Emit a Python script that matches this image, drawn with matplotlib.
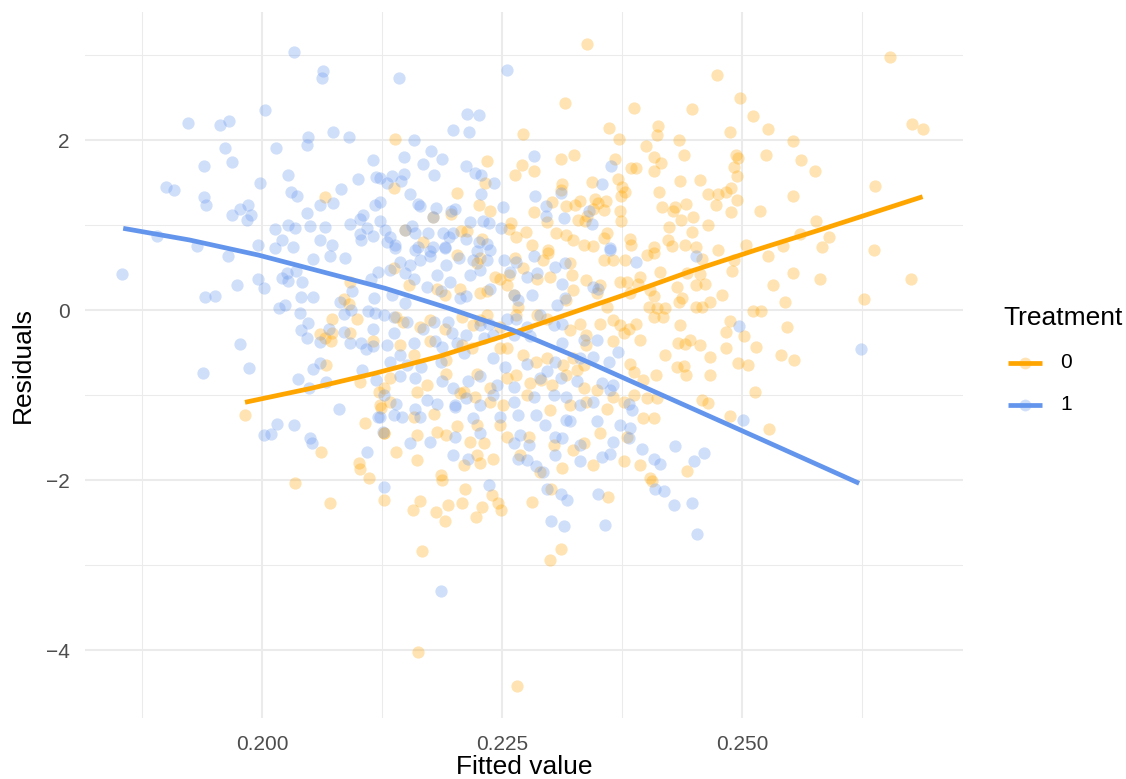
import matplotlib.pyplot as plt
from matplotlib.lines import Line2D
from matplotlib.ticker import MultipleLocator, StrMethodFormatter

plt.rcParams['font.family'] = ['Liberation Sans', 'DejaVu Sans']

# residuals vs fitted values, treatment 0
fitted_0 = [
    0.2066, 0.2092, 0.2085, 0.2091, 0.2099, 0.2073, 0.2060, 0.2066, 0.2073, 0.2072,
    0.2092, 0.2116, 0.2067, 0.2102, 0.2122, 0.2124, 0.2107, 0.2127, 0.1982, 0.2061,
    0.2101, 0.2102, 0.2111, 0.2034, 0.2071, 0.2127,
    0.2157, 0.2165, 0.2181, 0.2191, 0.2194, 0.2208, 0.2211, 0.2223, 0.2229, 0.2240,
    0.2246, 0.2249, 0.2167, 0.2162, 0.2266, 0.2281, 0.2301, 0.2311, 0.2300, 0.2360,
    0.2187, 0.2406,
    0.2527, 0.2458, 0.2492, 0.2443, 0.2456, 0.2490, 0.2553, 0.2581, 0.2676, 0.2432,
    0.2452, 0.2461, 0.2532, 0.2479, 0.2437, 0.2434, 0.2467, 0.2452, 0.2458, 0.2545,
    0.2627, 0.2511, 0.2520, 0.2435, 0.2488, 0.2483, 0.2502, 0.2547, 0.2433, 0.2441,
    0.2446, 0.2456, 0.2483, 0.2515, 0.2467, 0.2541, 0.2554, 0.2496, 0.2506, 0.2432,
    0.2440, 0.2442, 0.2467, 0.2514, 0.2458, 0.2465, 0.2487, 0.2528, 0.2443,
    0.2474, 0.2654, 0.2448, 0.2498, 0.2511, 0.2527, 0.2488, 0.2434, 0.2553, 0.2677,
    0.2689, 0.2440, 0.2494, 0.2496, 0.2525, 0.2561, 0.2576, 0.2492, 0.2495, 0.2435,
    0.2456, 0.2465, 0.2475, 0.2483, 0.2489, 0.2473, 0.2495, 0.2489, 0.2442, 0.2430,
    0.2436, 0.2449, 0.2465, 0.2448, 0.2553, 0.2519, 0.2639, 0.2577, 0.2560, 0.2591,
    0.2441, 0.2452, 0.2475, 0.2504, 0.2543, 0.2583, 0.2637,
    0.2339, 0.2316, 0.2387, 0.2272, 0.2361, 0.2372, 0.2413, 0.2411, 0.2139, 0.2311,
    0.2325, 0.2368, 0.2400, 0.2408, 0.2416, 0.2384, 0.2390, 0.2408, 0.2271, 0.2283,
    0.2264, 0.2234, 0.2232, 0.2137, 0.2203, 0.2313, 0.2311, 0.2344, 0.2371, 0.2375,
    0.2378, 0.2374, 0.2414, 0.2331, 0.2326, 0.2317, 0.2302, 0.2347, 0.2350, 0.2358,
    0.2356, 0.2345, 0.2339, 0.2373, 0.2374, 0.2417, 0.2428, 0.2424, 0.2226, 0.2238,
    0.2283, 0.2297, 0.2329, 0.2336, 0.2259, 0.2257, 0.2265, 0.2275, 0.2306, 0.2317,
    0.2324, 0.2335, 0.2345, 0.2359, 0.2356, 0.2383, 0.2384, 0.2408, 0.2423, 0.2427,
    0.2197, 0.2207, 0.2214, 0.2229, 0.2168, 0.2298, 0.2178, 0.2149,
    0.2137, 0.2203, 0.2224, 0.2227, 0.2243, 0.2257, 0.2264, 0.2272, 0.2281, 0.2293,
    0.2298, 0.2286, 0.2300, 0.2321, 0.2323, 0.2356, 0.2366, 0.2378, 0.2401, 0.2408,
    0.2415, 0.2394, 0.2392, 0.2380, 0.2153, 0.2182, 0.2191, 0.2206, 0.2227, 0.2234,
    0.2248, 0.2255, 0.2262, 0.2267, 0.2317, 0.2324, 0.2338, 0.2352, 0.2349, 0.2359,
    0.2373, 0.2383, 0.2404, 0.2408, 0.2403, 0.2411, 0.2140, 0.2147, 0.2165, 0.2175,
    0.2191, 0.2208, 0.2220, 0.2227, 0.2234, 0.2248, 0.2265, 0.2286, 0.2297, 0.2321,
    0.2331, 0.2338, 0.2352, 0.2366, 0.2373, 0.2382, 0.2390, 0.2394, 0.2408, 0.2418,
    0.2420, 0.2144, 0.2158, 0.2175, 0.2192, 0.2208, 0.2219, 0.2248, 0.2255, 0.2272,
    0.2285, 0.2297, 0.2314, 0.2324, 0.2335, 0.2338, 0.2366, 0.2377, 0.2383, 0.2387,
    0.2420, 0.2127, 0.2133, 0.2161, 0.2172, 0.2192, 0.2210, 0.2224, 0.2238, 0.2255,
    0.2265, 0.2279, 0.2291, 0.2302, 0.2317, 0.2328, 0.2335, 0.2349, 0.2366, 0.2387,
    0.2397, 0.2410, 0.2123, 0.2133, 0.2158, 0.2179, 0.2206, 0.2222, 0.2238, 0.2251,
    0.2276, 0.2300, 0.2321, 0.2338, 0.2359, 0.2377, 0.2401, 0.2411, 0.2127, 0.2140,
    0.2161, 0.2182, 0.2192, 0.2203, 0.2217, 0.2224, 0.2231, 0.2248, 0.2255, 0.2278,
    0.2304, 0.2324, 0.2335, 0.2352, 0.2380, 0.2397, 0.2408, 0.2161, 0.2186, 0.2210,
    0.2224, 0.2227, 0.2241, 0.2269, 0.2290, 0.2312, 0.2345, 0.2377, 0.2394, 0.2404,
]
resid_0 = [
    1.33, 0.33, 0.13, 0.07, -0.10, -0.11, -0.28, -0.33, -0.27, -0.37,
    -0.27, -0.36, -0.65, -0.85, -0.97, -1.15, -1.33, -1.45, -1.23, -1.67,
    -1.80, -1.87, -1.98, -2.04, -2.27, -2.24,
    -2.35, -2.25, -2.38, -2.48, -2.29, -2.27, -2.11, -2.44, -2.32, -2.18,
    -2.27, -2.35, -2.83, -4.02, -4.42, -2.26, -2.10, -2.81, -2.94, -2.20,
    -2.00, -2.01,
    0.64, 0.60, 0.59, 0.43, 0.42, 0.46, 0.43, 0.36, 0.37, 0.27,
    0.29, 0.31, 0.29, 0.18, 0.14, 0.09, 0.09, 0.03, 0.04, 0.09,
    0.13, -0.01, -0.01, -0.18, -0.13, -0.26, -0.31, -0.20, -0.39, -0.40,
    -0.35, -0.41, -0.45, -0.43, -0.55, -0.53, -0.59, -0.62, -0.65, -0.67,
    -0.66, -0.76, -0.76, -0.97, -1.06, -1.09, -1.25, -1.40, -1.89,
    2.76, 2.98, 2.36, 2.49, 2.28, 2.13, 2.09, 2.00, 1.99, 2.19,
    2.13, 1.82, 1.82, 1.79, 1.82, 1.77, 1.64, 1.68, 1.58, 1.52,
    1.53, 1.37, 1.36, 1.39, 1.44, 1.24, 1.29, 1.15, 1.25, 1.21,
    1.06, 1.09, 1.00, 0.92, 1.34, 1.17, 1.46, 1.05, 0.89, 0.86,
    0.76, 0.74, 0.71, 0.76, 0.75, 0.74, 0.71,
    3.13, 2.44, 2.38, 2.07, 2.14, 2.01, 2.16, 2.06, 2.01, 1.78,
    1.82, 1.78, 1.93, 1.80, 1.73, 1.67, 1.67, 1.63, 1.71, 1.63,
    1.59, 1.75, 1.49, 1.43, 1.38, 1.48, 1.41, 1.51, 1.54, 1.45,
    1.39, 1.34, 1.39, 1.28, 1.24, 1.22, 1.27, 1.31, 1.26, 1.28,
    1.18, 1.19, 1.11, 1.16, 1.05, 1.21, 1.16, 0.98, 1.23, 1.16,
    1.15, 1.03, 1.06, 1.05, 1.02, 0.95, 0.86, 0.92, 0.91, 0.88,
    0.82, 0.76, 0.75, 0.91, 0.85, 0.83, 0.76, 0.74, 0.82, 0.75,
    1.13, 0.93, 0.93, 0.83, 0.80, 0.71, 1.10, 0.94,
    0.49, 0.65, 0.55, 0.61, 0.39, 0.41, 0.61, 0.49, 0.76, 0.59,
    0.67, 0.37, 0.39, 0.55, 0.41, 0.59, 0.59, 0.59, 0.65, 0.67,
    0.45, 0.39, 0.31, 0.33, 0.29, 0.25, 0.18, 0.25, 0.20, 0.22,
    0.37, 0.29, 0.18, 0.04, 0.12, 0.24, 0.35, 0.29, 0.20, 0.04,
    0.33, 0.20, 0.24, 0.16, 0.04, 0.02, -0.08, -0.14, -0.20, -0.12,
    -0.22, -0.08, -0.18, -0.12, -0.06, -0.20, -0.06, -0.06, -0.10, -0.24,
    -0.16, -0.29, -0.16, -0.12, -0.18, -0.22, -0.16, -0.35, -0.08, -0.08,
    0.02, -0.41, -0.53, -0.37, -0.59, -0.41, -0.45, -0.45, -0.45, -0.53,
    -0.61, -0.57, -0.65, -0.57, -0.65, -0.41, -0.37, -0.27, -0.63, -0.73,
    -0.53, -0.92, -0.80, -0.96, -0.88, -0.75, -0.96, -0.75, -0.92, -0.80,
    -0.76, -0.86, -0.82, -0.88, -0.76, -0.71, -0.92, -0.94, -1.02, -1.00,
    -0.82, -0.76, -1.12, -1.08, -1.26, -1.22, -0.98, -1.02, -1.08, -1.12,
    -1.00, -1.18, -1.12, -1.08, -1.16, -1.08, -1.04, -1.04, -1.45, -1.67,
    -1.47, -1.43, -1.47, -1.37, -1.55, -1.35, -1.57, -1.35, -1.49, -1.49,
    -1.59, -1.65, -1.57, -1.45, -1.49, -1.27, -1.27, -1.76, -1.94, -1.82,
    -1.71, -1.80, -1.75, -1.71, -1.90, -1.86, -1.82, -1.78, -1.82, -1.98,
]

# residuals vs fitted values, treatment 1
fitted_1 = [
    0.2033, 0.2064, 0.2062, 0.2003, 0.1923, 0.1956, 0.1966, 0.2048, 0.2074, 0.2091,
    0.1961, 0.2015, 0.2047, 0.1940, 0.1969, 0.2116, 0.2027, 0.1998, 0.2100, 0.2119,
    0.1900, 0.1908, 0.2030, 0.2036, 0.2082, 0.1940, 0.1942, 0.1985, 0.1977, 0.1969,
    0.1989, 0.1984, 0.2060, 0.2074, 0.2047, 0.2118, 0.2123, 0.2013, 0.2027, 0.2034,
    0.2050, 0.2066, 0.2092, 0.2105, 0.2102, 0.2109, 0.2102, 0.2116, 0.2123, 0.2103,
    0.1891, 0.1932, 0.1996, 0.2021, 0.2060, 0.2073, 0.2013, 0.2032,
    0.1965, 0.1854, 0.1974, 0.1941, 0.1951, 0.1996, 0.2002, 0.2021, 0.2026, 0.2035,
    0.2027, 0.2042, 0.2053, 0.2071, 0.2086, 0.2018, 0.2024, 0.2040, 0.2041, 0.2053,
    0.2048, 0.2041, 0.2047, 0.2060, 0.2070, 0.2081, 0.2085, 0.2093, 0.2094, 0.2085,
    0.2092, 0.2103, 0.2108, 0.2116, 0.2110, 0.2118, 0.2116, 0.2117, 0.2121, 0.2114,
    0.1977, 0.1939, 0.1986, 0.2037, 0.2053, 0.2060, 0.2049, 0.2067, 0.2104, 0.2119,
    0.2080, 0.2121, 0.2016, 0.2033, 0.2002, 0.2009, 0.2050, 0.2052, 0.2109, 0.2126,
    0.2127,
    0.2236, 0.2186, 0.2297, 0.2311, 0.2318, 0.2301, 0.2315, 0.2350, 0.2357, 0.2409,
    0.2419, 0.2429, 0.2448, 0.2453,
    0.2452, 0.2497, 0.2624, 0.2501, 0.2430, 0.2450, 0.2460,
    0.2143, 0.2255, 0.2214, 0.2226, 0.2199, 0.2216, 0.2158, 0.2148, 0.2176, 0.2187,
    0.2168, 0.2179, 0.2213, 0.2222, 0.2228, 0.2242, 0.2135, 0.2148, 0.2145, 0.2123,
    0.2130, 0.2283, 0.2364, 0.2354, 0.2154, 0.2228, 0.2284, 0.2311, 0.2162, 0.2165,
    0.2181, 0.2201, 0.2197, 0.2251, 0.2296, 0.2341, 0.2128, 0.2156, 0.2159, 0.2173,
    0.2189, 0.2199, 0.2217, 0.2230, 0.2236, 0.2249, 0.2296, 0.2315, 0.2344, 0.2133,
    0.2130, 0.2139, 0.2162, 0.2178, 0.2191, 0.2195, 0.2212, 0.2226, 0.2234, 0.2363,
    0.2178, 0.2149,
    0.2139, 0.2159, 0.2175, 0.2191, 0.2224, 0.2238, 0.2363, 0.2144, 0.2154, 0.2165,
    0.2175, 0.2192, 0.2205, 0.2220, 0.2234, 0.2252, 0.2265, 0.2283, 0.2305, 0.2316,
    0.2390, 0.2133, 0.2149, 0.2158, 0.2182, 0.2196, 0.2217, 0.2227, 0.2258, 0.2276,
    0.2286, 0.2312, 0.2345, 0.2350, 0.2135, 0.2149, 0.2172, 0.2186, 0.2206, 0.2213,
    0.2238, 0.2262, 0.2281, 0.2267, 0.2307, 0.2316, 0.2127, 0.2137, 0.2151, 0.2168,
    0.2179, 0.2194, 0.2198, 0.2212, 0.2227, 0.2236, 0.2255, 0.2265, 0.2276, 0.2304,
    0.2312, 0.2290, 0.2137, 0.2130, 0.2144, 0.2158, 0.2180, 0.2187, 0.2203, 0.2231,
    0.2241, 0.2262, 0.2279, 0.2312, 0.2335, 0.2349, 0.2371, 0.2345, 0.2361, 0.2133,
    0.2151, 0.2166, 0.2186, 0.2210, 0.2241, 0.2253, 0.2276, 0.2297, 0.2305, 0.2331,
    0.2144, 0.2159, 0.2187, 0.2199, 0.2215, 0.2227, 0.2245, 0.2262, 0.2290, 0.2311,
    0.2328, 0.2354, 0.2366, 0.2127, 0.2140, 0.2159, 0.2172, 0.2182, 0.2201, 0.2213,
    0.2227, 0.2241, 0.2262, 0.2283, 0.2304, 0.2317, 0.2331, 0.2345, 0.2363, 0.2382,
    0.2385, 0.2123, 0.2137, 0.2146, 0.2165, 0.2201, 0.2220, 0.2248, 0.2267, 0.2285,
    0.2295, 0.2317, 0.2321, 0.2373, 0.2383, 0.2349, 0.2154, 0.2175, 0.2201, 0.2227,
    0.2262, 0.2269, 0.2278, 0.2305, 0.2312, 0.2331, 0.2366, 0.2382, 0.2396, 0.2199,
    0.2215, 0.2267, 0.2276, 0.2285, 0.2293, 0.2331, 0.2354, 0.2363, 0.2408, 0.2415,
    0.2305,
]
resid_1 = [
    3.04, 2.81, 2.73, 2.35, 2.20, 2.18, 2.22, 2.04, 2.09, 2.04,
    1.91, 1.91, 1.94, 1.70, 1.74, 1.77, 1.59, 1.49, 1.54, 1.56,
    1.45, 1.41, 1.39, 1.34, 1.42, 1.33, 1.23, 1.24, 1.19, 1.12,
    1.12, 1.06, 1.24, 1.26, 1.14, 1.23, 1.27, 0.95, 1.00, 0.96,
    0.99, 0.98, 1.01, 1.12, 1.07, 0.97, 0.90, 0.87, 1.05, 0.82,
    0.87, 0.75, 0.77, 0.82, 0.82, 0.76, 0.73, 0.74,
    0.64, 0.42, 0.30, 0.15, 0.17, 0.36, 0.26, 0.38, 0.43, 0.46,
    0.34, 0.33, 0.60, 0.64, 0.61, 0.02, 0.06, -0.03, 0.15, 0.15,
    -0.15, -0.24, -0.33, -0.38, -0.22, 0.09, -0.05, 0.00, 0.22, -0.26,
    -0.39, -0.39, -0.46, -0.42, -0.01, -0.04, -0.22, 0.14, 0.45, 0.37,
    -0.40, -0.74, -0.68, -0.81, -0.69, -0.62, -0.92, -0.85, -0.71, -0.82,
    -1.16, -1.26, -1.34, -1.35, -1.47, -1.46, -1.51, -1.57, -1.67, -1.43,
    -2.08,
    -2.06, -3.31, -2.11, -2.16, -2.24, -2.48, -2.54, -2.16, -2.53, -2.10,
    -2.13, -2.29, -2.27, -2.64,
    0.63, -0.19, -0.46, -1.29, -1.60, -1.78, -1.68,
    2.73, 2.82, 2.31, 2.30, 2.12, 2.10, 2.00, 1.80, 1.87, 1.78,
    1.72, 1.59, 1.70, 1.61, 1.59, 1.50, 1.58, 1.60, 1.52, 1.55,
    1.49, 1.81, 1.70, 1.48, 1.36, 1.36, 1.34, 1.38, 1.25, 1.22,
    1.20, 1.19, 1.16, 1.21, 1.22, 1.16, 0.94, 0.99, 0.91, 0.91,
    0.91, 0.91, 1.03, 1.05, 1.02, 0.96, 1.11, 1.08, 1.01, 0.86,
    0.80, 0.76, 0.74, 0.74, 0.74, 0.86, 0.84, 0.80, 0.78, 0.73,
    1.10, 0.94,
    0.73, 0.71, 0.69, 0.73, 0.69, 0.71, 0.71, 0.57, 0.53, 0.59,
    0.63, 0.53, 0.61, 0.59, 0.59, 0.59, 0.57, 0.63, 0.51, 0.55,
    0.57, 0.47, 0.43, 0.37, 0.41, 0.33, 0.41, 0.47, 0.45, 0.39,
    0.43, 0.31, 0.27, 0.25, 0.18, 0.08, 0.27, 0.22, 0.14, 0.16,
    0.25, 0.18, 0.18, 0.12, 0.06, 0.14, -0.06, -0.08, -0.14, -0.22,
    -0.14, -0.14, -0.27, -0.29, -0.18, -0.16, -0.10, -0.10, -0.20, -0.18,
    -0.16, -0.06, -0.27, -0.41, -0.53, -0.39, -0.37, -0.43, -0.39, -0.33,
    -0.29, -0.29, -0.31, -0.39, -0.35, -0.35, -0.49, -0.55, -0.61, -0.61,
    -0.65, -0.67, -0.61, -0.51, -0.57, -0.67, -0.63, -0.72, -0.61, -0.57,
    -0.78, -0.80, -0.84, -0.92, -0.84, -0.78, -0.88, -0.90, -0.80, -0.80,
    -0.84, -0.86, -0.88, -1.00, -1.10, -1.16, -1.06, -1.10, -1.12, -1.04,
    -1.12, -1.00, -1.08, -1.02, -1.00, -1.02, -1.12, -1.08, -0.94, -1.10,
    -1.18, -1.26, -1.24, -1.26, -1.26, -1.14, -1.27, -1.26, -1.24, -1.24,
    -1.35, -1.29, -1.31, -1.35, -1.39, -1.31, -1.57, -1.55, -1.49, -1.45,
    -1.57, -1.47, -1.59, -1.49, -1.51, -1.59, -1.55, -1.51, -1.64, -1.71,
    -1.75, -1.75, -1.76, -1.84, -1.90, -1.78, -1.73, -1.69, -1.75, -1.81,
    -1.71,
]

# smoothed trend per group
smooth_x_0 = [0.19823, 0.20513, 0.21174, 0.21835, 0.22497, 0.23159,
              0.23821, 0.24482, 0.25144, 0.25806, 0.26881]
smooth_y_0 = [-1.086, -0.921, -0.745, -0.549, -0.314, -0.059,
              0.196, 0.462, 0.706, 0.941, 1.333]
smooth_x_1 = [0.18554, 0.19244, 0.19960, 0.20623, 0.21284, 0.21946,
              0.22607, 0.23270, 0.23931, 0.24593, 0.25254, 0.26220]
smooth_y_1 = [0.961, 0.824, 0.647, 0.451, 0.255, 0.020,
              -0.235, -0.549, -0.882, -1.215, -1.549, -2.039]

groups = ['0', '1']
colors = ['#FFA500', '#6495ED']
grid_col = '#EBEBEB'

fig = plt.figure(figsize=(11.26, 7.79), dpi=100)
ax = fig.add_axes([85 / 1126, 1 - 718 / 779, 878 / 1126, 706 / 779])

ax.scatter(fitted_0, resid_0, s=78, color=colors[0], alpha=0.3, linewidths=0, zorder=3)
ax.scatter(fitted_1, resid_1, s=78, color=colors[1], alpha=0.3, linewidths=0, zorder=3)
ax.plot(smooth_x_0, smooth_y_0, color=colors[0], lw=3.4, solid_capstyle='butt',
        solid_joinstyle='round', zorder=4)
ax.plot(smooth_x_1, smooth_y_1, color=colors[1], lw=3.4, solid_capstyle='butt',
        solid_joinstyle='round', zorder=4)

ax.set_xlim(0.18156, 0.27302)
ax.set_ylim(-4.80, 3.506)
ax.xaxis.set_major_locator(MultipleLocator(0.025))
ax.xaxis.set_minor_locator(MultipleLocator(0.0125))
ax.yaxis.set_major_locator(MultipleLocator(2))
ax.yaxis.set_minor_locator(MultipleLocator(1))
ax.xaxis.set_major_formatter(StrMethodFormatter('{x:.3f}'))
ax.yaxis.set_major_formatter(StrMethodFormatter('{x:.0f}'))

ax.grid(which='major', color=grid_col, lw=1.5)
ax.grid(which='minor', color=grid_col, lw=0.75)
ax.set_axisbelow(True)
for s in ax.spines.values():
    s.set_visible(False)
ax.tick_params(which='both', length=0)
ax.tick_params(axis='x', labelsize=15, labelcolor='#4D4D4D', pad=12)
ax.tick_params(axis='y', labelsize=15, labelcolor='#4D4D4D', pad=11)

ax.set_xlabel('Fitted value', fontsize=19, labelpad=1)
ax.set_ylabel('Residuals', fontsize=19, labelpad=8)

# legend drawn by hand on the right
fig.text(1003 / 1126, 1 - 318 / 779, 'Treatment', fontsize=19, ha='left', va='center')
for i, (g, c) in enumerate(zip(groups, colors)):
    yk = 1 - (363 + 42 * i) / 779
    fig.add_artist(Line2D([1008 / 1126, 1042 / 1126], [yk, yk], color=c, lw=3.4,
                          solid_capstyle='butt'))
    fig.add_artist(Line2D([1025 / 1126], [yk], marker='o', ms=8.5, color=c, alpha=0.3,
                          markeredgewidth=0))
    fig.text(1060 / 1126, yk, g, fontsize=15, ha='left', va='center')

fig.savefig('out.png', dpi=100, facecolor='white')
